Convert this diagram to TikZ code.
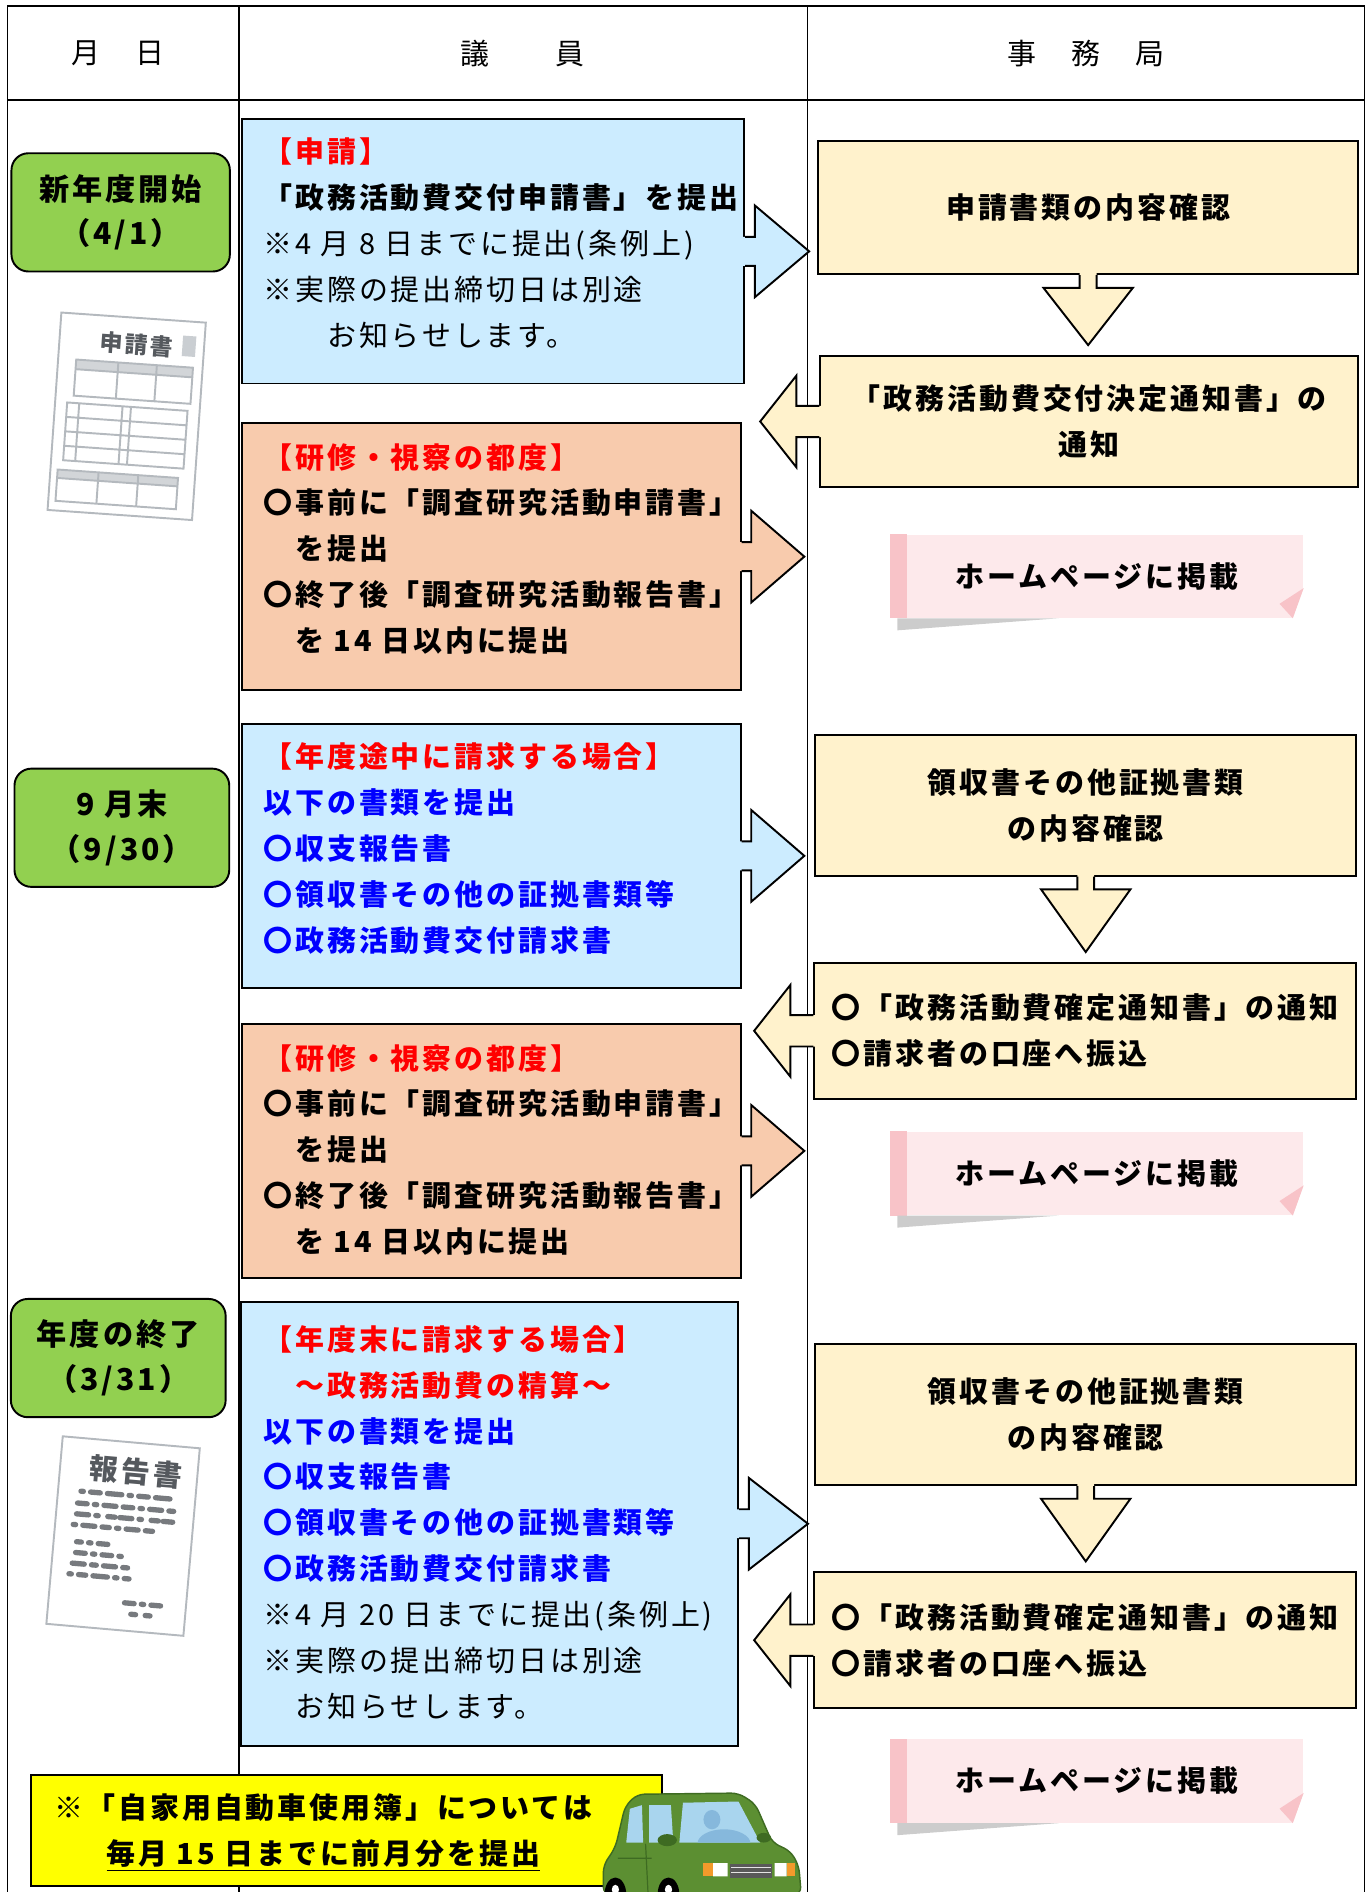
\documentclass[tikz,border=0pt]{standalone}
\usepackage{fontspec}
\setmainfont{Noto Sans CJK JP}[LetterSpace=10]
\usetikzlibrary{calc,positioning}

\definecolor{memberblue}{HTML}{CCECFF}
\definecolor{memberorange}{HTML}{F8CBAD}
\definecolor{officeyellow}{HTML}{FFF2CC}
\definecolor{dategreen}{HTML}{92D050}
\definecolor{notepink}{HTML}{FDE9EB}
\definecolor{notestrip}{HTML}{F8C3C8}
\definecolor{memoyellow}{HTML}{FFFF00}
\definecolor{alertred}{HTML}{FF0000}
\definecolor{listblue}{HTML}{0000FF}
\definecolor{papergray}{HTML}{B4B9BE}
\definecolor{inkgray}{HTML}{55595E}
\definecolor{carbody}{HTML}{5C8F32}
\definecolor{cardark}{HTML}{3E6B22}
\definecolor{carglass}{HTML}{A9D5EE}
\definecolor{glassshade}{HTML}{86B8DC}
\definecolor{caramber}{HTML}{F39A2B}

\newcommand{\planfont}{\fontsize{12pt}{19pt}\selectfont}

\tikzset{
  blockline/.style={draw=black, line width=0.8pt},
  tablerule/.style={line width=0.6pt},
  memberbox/.style={rectangle, blockline, anchor=north west, inner sep=0pt},
  membertext/.style={anchor=north west, inner sep=0pt, align=left, font=\planfont\bfseries},
  officebox/.style={rectangle, blockline, fill=officeyellow, anchor=north west,
                    align=center, font=\planfont\bfseries},
  datebox/.style={rectangle, rounded corners=7pt, blockline, fill=dategreen, align=center,
                  font=\fontsize{12.5pt}{18.5pt}\selectfont\bfseries,
                  minimum width=89pt, minimum height=49pt},
  webnote/.style={rectangle, fill=notepink, minimum width=171pt, minimum height=34.5pt,
                  font=\planfont\bfseries},
  headcell/.style={font=\planfont},
}

% block arrow leaving a box to the right
\newcommand{\sendright}[3]{%
  \begin{scope}[shift={(#1.east)}]
    \fill[#2] (-2,-12) -- (8,-12) -- (8,-38) -- (#3,0) -- (8,38) -- (8,12) -- (-2,12) -- cycle;
    \draw[blockline] (0,-12) -- (8,-12) -- (8,-38) -- (#3,0) -- (8,38) -- (8,12) -- (0,12);
  \end{scope}}
% block arrow leaving an office box to the left
\newcommand{\sendleft}[1]{%
  \begin{scope}[shift={(#1.west)}]
    \fill[officeyellow] (2,-13) -- (-19,-13) -- (-19,-38) -- (-49,0) -- (-19,38) -- (-19,13) -- (2,13) -- cycle;
    \draw[blockline] (0,-13) -- (-19,-13) -- (-19,-38) -- (-49,0) -- (-19,38) -- (-19,13) -- (0,13);
  \end{scope}}
% block arrow between two office boxes
\newcommand{\senddown}[2]{%
  \coordinate (tip) at ($(#1.south |- #2.north)+(0,-8)$);
  \fill[officeyellow] ($(#1.south)+(-7,-2)$) -- ++(0,12.5) -- ++(-30,0) -- (tip)
    -- ($(#1.south)+(37,10.5)$) -- ++(-30,0) -- ++(0,-12.5) -- cycle;
  \draw[blockline] ($(#1.south)+(-7,0)$) -- ++(0,10.5) -- ++(-30,0) -- (tip)
    -- ($(#1.south)+(37,10.5)$) -- ++(-30,0) -- ++(0,-10.5);
}
% sticky note for the web page
\newcommand{\pagenote}[2]{%
  \node[webnote] (#1) at (909,#2) {ホームページに掲載};
  \fill[notestrip] (#1.north west) rectangle ($(#1.south west)+(14,0)$);
  \fill[black!20] ($(#1.south west)+(6,0)$) -- ($(#1.south west)+(6,10)$) -- ($(#1.south west)+(140,0)$) -- cycle;
  \fill[white] (#1.south east) -- ($(#1.south east)+(0,-25)$) -- ($(#1.south east)+(-9,0)$) -- cycle;
  \fill[notestrip] ($(#1.south east)+(0,-25)$) -- ($(#1.south east)+(-20,-12)$) -- ($(#1.south east)+(-9,0)$) -- cycle;
}

\begin{document}
\begin{tikzpicture}[x=0.5pt, y=-0.5pt]
  \useasboundingbox (0,0) rectangle (1136,1568);

  % table frame
  \draw[line width=1pt] (6,5) -- (1131,5) (6,83) -- (1131,83);
  \draw[tablerule] (6,5) -- (6,1568) (198,5) -- (198,1568)
    (669,5) -- (669,1568) (1131,5) -- (1131,1568);
  \node[headcell] (hdate) at (98,44) {月　日};
  \node[headcell] (hmember) at (433,44) {議　　員};
  \node[headcell] (hoffice) at (900,44) {事　務　局};

  % dates
  \node[datebox, minimum width=90.5pt] (start) at (100,176) {新年度開始\\（4/1）};
  \node[datebox] (midyear) at (101,686) {9 月末\\（9/30）};
  \node[datebox] (yearend) at (98,1125.5) {年度の終了\\（3/31）};

  % member side
  \node[memberbox, fill=memberblue, minimum width=208pt, minimum height=109.5pt] (apply) at (200,98) {};
  \node[membertext] (applytxt) at ([shift={(18,16)}]apply.north west)
    {\textcolor{alertred}{【申請】}\\
     「政務活動費交付申請書」を提出\\
     {\mdseries ※4 月 8 日までに提出(条例上)}\\
     {\mdseries ※実際の提出締切日は別途}\\
     {\mdseries 　　お知らせします。}};

  \node[memberbox, fill=memberorange, minimum width=206.5pt, minimum height=110.5pt] (trip1) at (200,350) {};
  \node[membertext] (trip1txt) at ([shift={(18,17)}]trip1.north west)
    {\textcolor{alertred}{【研修・視察の都度】}\\
     〇事前に「調査研究活動申請書」\\
     　を提出\\
     〇終了後「調査研究活動報告書」\\
     　を 14 日以内に提出};

  \node[memberbox, fill=memberblue, minimum width=206.5pt, minimum height=109.5pt] (claim1) at (200,599) {};
  \node[membertext] (claim1txt) at ([shift={(18,16)}]claim1.north west)
    {\textcolor{alertred}{【年度途中に請求する場合】}\\
     \color{listblue}以下の書類を提出\\
     \color{listblue}〇収支報告書\\
     \color{listblue}〇領収書その他の証拠書類等\\
     \color{listblue}〇政務活動費交付請求書};

  \node[memberbox, fill=memberorange, minimum width=206.5pt, minimum height=105pt] (trip2) at (200,848) {};
  \node[membertext] (trip2txt) at ([shift={(18,17)}]trip2.north west)
    {\textcolor{alertred}{【研修・視察の都度】}\\
     〇事前に「調査研究活動申請書」\\
     　を提出\\
     〇終了後「調査研究活動報告書」\\
     　を 14 日以内に提出};

  \node[memberbox, fill=memberblue, minimum width=206pt, minimum height=184pt] (claim2) at (199,1078) {};
  \node[membertext] (claim2txt) at ([shift={(19,20)}]claim2.north west)
    {\textcolor{alertred}{【年度末に請求する場合】}\\
     \textcolor{alertred}{　～政務活動費の精算～}\\
     \color{listblue}以下の書類を提出\\
     \color{listblue}〇収支報告書\\
     \color{listblue}〇領収書その他の証拠書類等\\
     \color{listblue}〇政務活動費交付請求書\\
     {\mdseries ※4 月 20 日までに提出(条例上)}\\
     {\mdseries ※実際の提出締切日は別途}\\
     {\mdseries 　お知らせします。}};

  % office side
  \node[officebox, minimum width=224pt, minimum height=55.25pt] (check1) at (677,116) {申請書類の内容確認};
  \node[officebox, minimum width=223pt, minimum height=54.5pt] (grant) at (679,294)
    {「政務活動費交付決定通知書」の\\通知};
  \node[officebox, minimum width=224pt, minimum height=58.5pt] (check2) at (675,608)
    {領収書その他証拠書類\\の内容確認};
  \node[officebox, minimum width=224.5pt, minimum height=56.5pt, align=left] (settle1) at (674,797)
    {〇「政務活動費確定通知書」の通知\\〇請求者の口座へ振込};
  \node[officebox, minimum width=224pt, minimum height=58.5pt] (check3) at (675,1113)
    {領収書その他証拠書類\\の内容確認};
  \node[officebox, minimum width=224.5pt, minimum height=56.5pt, align=left] (settle2) at (674,1302)
    {〇「政務活動費確定通知書」の通知\\〇請求者の口座へ振込};

  % arrows
  \sendright{apply}{memberblue}{53}
  \sendright{trip1}{memberorange}{52}
  \sendright{claim1}{memberblue}{52}
  \sendright{trip2}{memberorange}{52}
  \sendright{claim2}{memberblue}{57}
  \senddown{check1}{grant}
  \senddown{check2}{settle1}
  \senddown{check3}{settle2}
  \sendleft{grant}
  \sendleft{settle1}
  \sendleft{settle2}

  \pagenote{web1}{477.5}
  \pagenote{web2}{972.5}
  \pagenote{web3}{1476}

  % application form
  \begin{scope}[shift={(105,345)}, rotate=-4, papergray, line width=0.8pt]
    \draw[fill=white] (-60,-82) rectangle (60,82);
    \node[transform shape, text=inkgray, font=\fontsize{9.5pt}{10pt}\selectfont\bfseries] (formname) at (4,-60) {申請書};
    \fill[papergray!70] (42,-70) rectangle (53,-53);
    \fill[papergray!60] (-45,-44) rectangle (52,-36);
    \draw (-45,-44) rectangle (52,-14) (-45,-36) -- (52,-36)
      (-10,-44) -- (-10,-14) (22,-44) -- (22,-14);
    \draw (-50,-8) rectangle (50,40) (-50,4) -- (50,4) (-50,16) -- (50,16) (-50,28) -- (50,28)
      (-40,-8) -- (-40,40) (-4,-8) -- (-4,40) (3,-8) -- (3,40);
    \fill[papergray!60] (-54,48) rectangle (46,55);
    \draw (-54,48) rectangle (46,74) (-54,55) -- (46,55) (-20,48) -- (-20,74) (13,48) -- (13,74);
  \end{scope}

  % report
  \begin{scope}[shift={(102,1273)}, rotate=-5, papergray, line width=0.8pt]
    \draw[fill=white] (-57,-78) rectangle (57,78);
    \node[transform shape, text=inkgray, font=\fontsize{12pt}{13pt}\selectfont\bfseries] (reportname) at (6,-54) {報告書};
    \begin{scope}[inkgray!80, line width=2.2pt, line cap=round]
      \draw[dash pattern=on 1pt off 3pt on 4pt off 3pt on 6pt off 3pt] (-38,-34) -- (40,-34);
      \draw[dash pattern=on 4pt off 3pt on 1pt off 3pt on 5pt off 3pt] (-40,-24) -- (40,-24);
      \draw[dash pattern=on 5pt off 3pt on 1pt off 4pt on 3pt off 2pt] (-40,-15) -- (40,-15);
      \draw[dash pattern=on 1pt off 3pt on 5pt off 3pt on 3pt off 3pt] (-42,-6) -- (26,-6);
      \draw[dash pattern=on 2pt off 3pt on 1pt off 3pt on 4pt off 3pt] (-38,8) -- (-6,8);
      \draw[dash pattern=on 4pt off 3pt on 1pt off 3pt] (-38,17) -- (0,17);
      \draw[dash pattern=on 5pt off 3pt on 2pt off 3pt] (-40,26) -- (10,26);
      \draw[dash pattern=on 1pt off 3pt on 3pt off 3pt on 6pt off 3pt] (-42,35) -- (8,35);
      \draw[dash pattern=on 4pt off 3pt on 1pt off 3pt] (6,55) -- (38,55);
      \draw[dash pattern=on 2pt off 4pt] (12,64) -- (36,64);
    \end{scope}
  \end{scope}

  % private car log reminder
  \node[rectangle, blockline, fill=memoyellow, anchor=north west, inner sep=0pt,
        minimum width=261.5pt, minimum height=46pt] (carmemo) at (25,1470) {};
  \node[font=\planfont\bfseries, align=center] (carmemotxt) at (268,1519)
    {※「自家用自動車使用簿」については\\\underline{毎月 15 日までに前月分を提出}};

  % car
  \fill[carbody, draw=cardark, line width=0.6pt, rounded corners=3pt]
    (500,1570) -- (500,1546) -- (510,1531) -- (518,1497) -- (528,1487) -- (612,1486)
    -- (626,1495) -- (640,1527) -- (655,1534) -- (662,1546) -- (664,1570) -- cycle;
  \fill[carglass] (519,1527) -- (522,1499) -- (532,1496) -- (533,1527) -- cycle;
  \fill[carglass] (538,1527) -- (538,1496) -- (556,1496) -- (558,1527) -- cycle;
  \begin{scope}
    \clip (563,1527) -- (566,1494) -- (612,1493) -- (630,1527) -- cycle;
    \fill[carglass] (560,1490) rectangle (632,1530);
    \fill[glassshade] (590,1508) ellipse (7 and 8) (600,1528) ellipse (22 and 12);
  \end{scope}
  \fill[cardark] (553,1525) ellipse (8 and 5) (633,1523) ellipse (6 and 4);
  \draw[cardark, line width=0.5pt] (535,1528) -- (537,1568) (512,1540) -- (540,1540);
  \fill[caramber] (583,1544) rectangle (591,1555);
  \fill[white] (591,1544) rectangle (603,1555) (642,1544) rectangle (652,1555);
  \fill[caramber] (652,1544) rectangle (659,1555);
  \fill[black!65] (605,1545) rectangle (640,1556);
  \draw[white!80!gray, line width=0.5pt] (606,1548) -- (639,1548) (606,1551.5) -- (639,1551.5);
  \fill[black] (510,1570) ellipse (9 and 14) (554,1570) ellipse (9 and 14);
  \fill[white] (510,1566) ellipse (3 and 4) (554,1566) ellipse (3 and 4);
\end{tikzpicture}
\end{document}
